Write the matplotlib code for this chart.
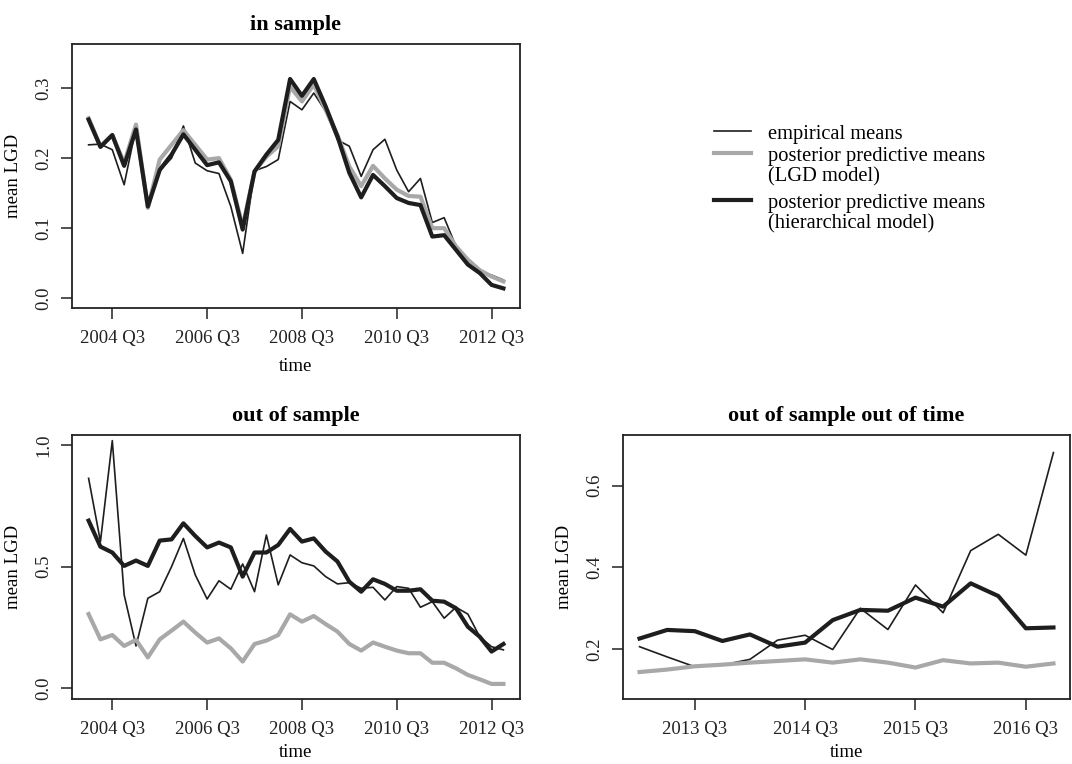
import matplotlib
matplotlib.use("Agg")
import matplotlib.pyplot as plt
from matplotlib.lines import Line2D

plt.rcParams["font.family"] = ["Liberation Serif", "DejaVu Serif"]

# quarterly series, in-sample / out-of-sample start 2004 Q1 (36 quarters)
start_in = 2004.0
emp_in = [0.219, 0.220, 0.212, 0.162, 0.244, 0.129, 0.182, 0.200, 0.246, 0.193,
          0.182, 0.178, 0.131, 0.064, 0.182, 0.188, 0.198, 0.281, 0.269, 0.293,
          0.267, 0.226, 0.217, 0.174, 0.212, 0.227, 0.183, 0.152, 0.171, 0.108,
          0.115, 0.074, 0.051, 0.038, 0.033, 0.026]
lgd_in = [0.257, 0.217, 0.233, 0.193, 0.248, 0.129, 0.198, 0.219, 0.240, 0.219,
          0.198, 0.200, 0.169, 0.102, 0.181, 0.202, 0.217, 0.302, 0.281, 0.305,
          0.269, 0.233, 0.188, 0.160, 0.189, 0.171, 0.155, 0.146, 0.145, 0.100,
          0.100, 0.074, 0.055, 0.040, 0.031, 0.024]
hier_in = [0.255, 0.216, 0.233, 0.189, 0.241, 0.131, 0.183, 0.205, 0.234, 0.212,
           0.190, 0.194, 0.167, 0.098, 0.181, 0.205, 0.226, 0.313, 0.289, 0.313,
           0.274, 0.231, 0.179, 0.144, 0.176, 0.160, 0.143, 0.136, 0.133, 0.088,
           0.090, 0.069, 0.048, 0.036, 0.019, 0.014]

emp_out = [0.863, 0.603, 1.018, 0.384, 0.174, 0.370, 0.397, 0.500, 0.616, 0.466,
           0.367, 0.442, 0.407, 0.511, 0.397, 0.630, 0.425, 0.548, 0.516, 0.503,
           0.459, 0.429, 0.434, 0.411, 0.415, 0.363, 0.418, 0.411, 0.333, 0.356,
           0.288, 0.333, 0.305, 0.212, 0.171, 0.158]
lgd_out = [0.305, 0.201, 0.219, 0.174, 0.199, 0.127, 0.201, 0.237, 0.274, 0.229,
           0.188, 0.205, 0.164, 0.110, 0.182, 0.196, 0.219, 0.304, 0.274, 0.297,
           0.264, 0.233, 0.182, 0.155, 0.188, 0.171, 0.155, 0.144, 0.144, 0.105,
           0.105, 0.082, 0.055, 0.037, 0.018, 0.018]
hier_out = [0.689, 0.582, 0.558, 0.503, 0.525, 0.503, 0.607, 0.612, 0.678, 0.626,
            0.579, 0.599, 0.579, 0.459, 0.558, 0.558, 0.589, 0.655, 0.603, 0.616,
            0.562, 0.521, 0.438, 0.397, 0.448, 0.429, 0.401, 0.401, 0.407, 0.360,
            0.356, 0.329, 0.253, 0.212, 0.151, 0.182]

# out of time: 2013 Q1 .. 2016 Q4
start_oot = 2013.0
emp_oot = [0.206, 0.181, 0.157, 0.161, 0.175, 0.222, 0.234, 0.199, 0.300, 0.248,
           0.357, 0.289, 0.441, 0.481, 0.430, 0.681]
lgd_oot = [0.144, 0.150, 0.158, 0.162, 0.167, 0.171, 0.175, 0.167, 0.175, 0.167,
           0.155, 0.173, 0.165, 0.167, 0.157, 0.165]
hier_oot = [0.226, 0.247, 0.244, 0.220, 0.236, 0.206, 0.216, 0.271, 0.296, 0.294,
            0.326, 0.304, 0.361, 0.330, 0.251, 0.253]

titles = ["in sample", "out of sample", "out of sample out of time"]
legend_labels = ["empirical means", "posterior predictive means\n(LGD model)",
                 "posterior predictive means\n(hierarchical model)"]

W, H = 1072, 764
GRAY = "#a8a8a8"
DARK = "#1e1e1e"
FS = 13.5


def quarters(start, n):
    return [start + 0.25 * i for i in range(n)]


def panel(rect, t, emp, lgd, hier, title, yticks, ylim, xticks, xlab_off):
    l, t_, r, b = rect
    w, h = r - l, b - t_
    ax = fig.add_axes([l / W, 1 - b / H, w / W, h / H])
    ax.plot(t, emp, color=DARK, lw=1.2)
    ax.plot(t, lgd, color=GRAY, lw=3.0)
    ax.plot(t, hier, color=DARK, lw=3.0)
    ax.set_xlim(t[0] - 0.04 * (t[-1] - t[0]), t[-1] + 0.04 * (t[-1] - t[0]))
    ax.set_ylim(*ylim)
    ax.set_xticks([x + 0.5 for x in xticks])
    ax.set_xticklabels([f"{x} Q3" for x in xticks])
    ax.set_yticks(yticks)
    ax.set_yticklabels([f"{v:.1f}" for v in yticks], rotation=90, va="center")
    ax.tick_params(direction="out", length=8, width=1.1, labelsize=FS,
                   colors="#222222")
    ax.tick_params(axis="x", pad=8)
    ax.tick_params(axis="y", pad=6)
    for s in ax.spines.values():
        s.set_linewidth(1.3)
        s.set_color("#222222")
    ax.set_xlabel("time", fontsize=FS)
    ax.set_ylabel("mean LGD", fontsize=FS)
    ax.xaxis.set_label_coords(0.5, -xlab_off / h)
    ax.yaxis.set_label_coords(-50 / w, 0.5)
    ax.text(0.5, 1 + 19 / h, title, transform=ax.transAxes,
            ha="center", va="center", fontsize=16, fontweight="bold")
    return ax


fig = plt.figure(figsize=(W / 100, H / 100), dpi=100)

panel((72, 44, 520, 308), quarters(start_in, len(emp_in)), emp_in, lgd_in,
      hier_in, titles[0], [0.0, 0.1, 0.2, 0.3], (-0.014, 0.363),
      [2004, 2006, 2008, 2010, 2012], 50)
panel((72, 435, 520, 699), quarters(start_in, len(emp_out)), emp_out, lgd_out,
      hier_out, titles[1], [0.0, 0.5, 1.0], (-0.044, 1.041),
      [2004, 2006, 2008, 2010, 2012], 45)
panel((623, 435, 1070, 699), quarters(start_oot, len(emp_oot)), emp_oot,
      lgd_oot, hier_oot, titles[2], [0.2, 0.4, 0.6], (0.078, 0.724),
      [2013, 2014, 2015, 2016], 45)

# legend, drawn in figure pixels
styles = [(DARK, 1.2, 131), (GRAY, 3.0, 153), (DARK, 3.0, 200)]
for (c, lw, y), lab in zip(styles, legend_labels):
    fig.add_artist(Line2D([714 / W, 751 / W], [1 - y / H, 1 - y / H],
                          color=c, lw=lw, transform=fig.transFigure))
    fig.text(768 / W, 1 - (y - 6) / H, lab, fontsize=14.8, va="top",
             ha="left", linespacing=1.12)

fig.savefig("out.png", dpi=100)
